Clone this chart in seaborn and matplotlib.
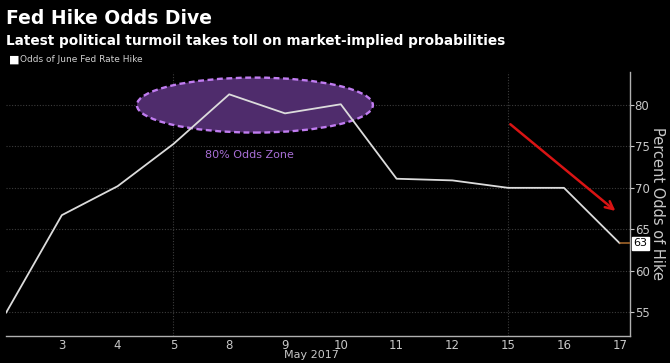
import seaborn as sns
import matplotlib.pyplot as plt
import pandas as pd
from matplotlib.patches import Ellipse

# trading days, May 2017
days = ['2', '3', '4', '5', '8', '9', '10', '11', '12', '15', '16', '17']
odds = [54.9, 66.7, 70.2, 75.3, 81.3, 79.0, 80.1, 71.1, 70.9, 70.0, 70.0, 63.3]
yticks = [55, 60, 65, 70, 75, 80]
last_label = '63'

df = pd.DataFrame({'pos': range(len(days)), 'odds': odds})

sns.set_style('dark')
plt.rcParams['font.family'] = ['DejaVu Sans']

fig = plt.figure(figsize=(6.7, 3.63), dpi=100, facecolor='black')
ax = fig.add_axes([0.009, 0.0744, 0.931, 0.7273])
ax.set_facecolor('black')

# 80% zone ellipse
zone = Ellipse((4.46, 80.0), 4.23, 6.64, facecolor='#4f2c6c', edgecolor='#c07cf0',
               linestyle=(0, (2.5, 1.5)), linewidth=1.7, zorder=2)
ax.add_patch(zone)
ax.text(4.37, 74.0, '80% Odds Zone', color='#a86fd6', fontsize=8, ha='center', va='center', zorder=3)

sns.lineplot(data=df, x='pos', y='odds', ax=ax, color='#dcdcdc', linewidth=1.3, zorder=4)

ax.set_xlim(0, 11.18)
ax.set_ylim(52.1, 84)

# last value stub and tag
ax.plot([df['pos'].iloc[-1], 11.18], [odds[-1], odds[-1]], color='#a0642a', linewidth=1.2, zorder=4)
ax.text(1.006, (odds[-1] - 52.1) / (84 - 52.1), last_label, transform=ax.transAxes,
        color='black', fontsize=8, ha='left', va='center', zorder=6,
        bbox=dict(boxstyle='square,pad=0.12', facecolor='white', edgecolor='white'))

# red trend arrow
ax.annotate('', xy=(10.96, 67.0), xytext=(9.0, 77.9),
            arrowprops=dict(arrowstyle='->', color='#d91414', linewidth=1.8, mutation_scale=14))

# axes styling
ax.yaxis.tick_right()
ax.yaxis.set_label_position('right')
ax.set_yticks(yticks)
ax.set_yticklabels([str(v) for v in yticks])
ax.set_xticks(range(1, len(days)))
ax.set_xticklabels(days[1:])
ax.set_xticks([0, 3, 9], minor=True)
ax.tick_params(axis='x', which='major', length=0, colors='#c8c8c8', labelsize=8.5, pad=2)
ax.tick_params(axis='x', which='minor', length=3, color='#888888')
ax.tick_params(axis='y', length=3, colors='#c8c8c8', labelsize=8.5, pad=0.5)
ax.set_xlabel('')
ax.set_ylabel('Percent Odds of Hike', rotation=270, color='#c8c8c8', fontsize=10.5, labelpad=11)

ax.grid(False)
for y in yticks:
    ax.axhline(y, color='#3c3c3c', linewidth=0.8, linestyle=(0, (1, 1.5)), zorder=1)
for x in [3, 9]:
    ax.axvline(x, color='#3c3c3c', linewidth=0.8, linestyle=(0, (1, 1.5)), zorder=1)

for s in ['top', 'left']:
    ax.spines[s].set_visible(False)
ax.spines['right'].set_color('#b0b0b0')
ax.spines['bottom'].set_color('#b0b0b0')
ax.spines['right'].set_linewidth(1)
ax.spines['bottom'].set_linewidth(1)

ax.text(0.49, -0.052, 'May 2017', transform=ax.transAxes, color='#c8c8c8', fontsize=8,
        ha='center', va='top')

# titles and legend
fig.text(0.009, 0.975, 'Fed Hike Odds Dive', color='white', fontsize=13.5, fontweight='bold', va='top')
fig.text(0.009, 0.905, 'Latest political turmoil takes toll on market-implied probabilities',
         color='white', fontsize=9.8, fontweight='bold', va='top')
fig.text(0.014, 0.835, '\u25a0', color='white', fontsize=8, va='center')
fig.text(0.030, 0.835, 'Odds of June Fed Rate Hike', color='#d0d0d0', fontsize=6.5, va='center')

plt.savefig('out.png', dpi=100, facecolor='black')
plt.close()
